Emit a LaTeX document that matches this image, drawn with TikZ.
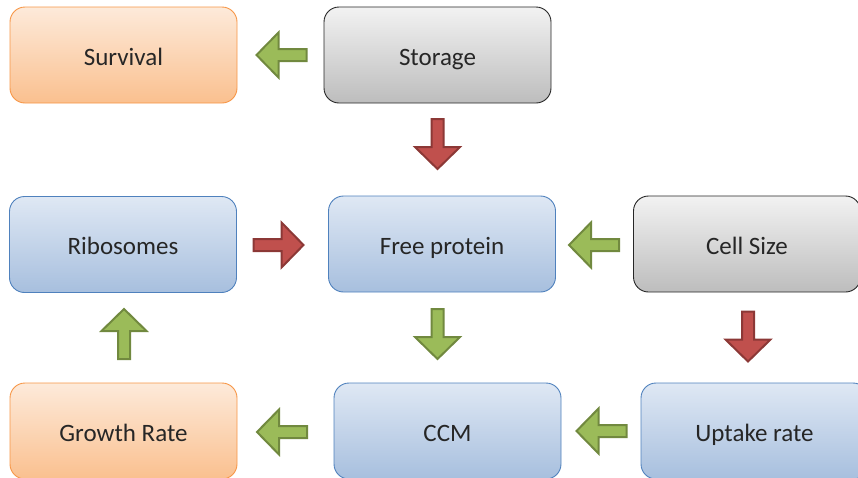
\documentclass[tikz,border=0pt]{standalone}
\usepackage{fontspec}
\setmainfont{Carlito}
\begin{document}
\begin{tikzpicture}[x=1pt,y=-1pt,
  box/.style={rounded corners=15pt, minimum width=227pt, minimum height=96pt,
    inner sep=0pt, text height=20pt, text depth=0pt,
    font=\fontsize{25}{30}\selectfont, text=txt, line width=0.9pt},
  orangebox/.style={box, draw=oborder, top color=otop, bottom color=obot},
  bluebox/.style={box, draw=bborder, top color=btop, bottom color=bbot},
  graybox/.style={box, draw=gborder, top color=gtop, bottom color=gbot},
  greenarrow/.style={fill=grfill, draw=grborder, line width=2pt, line join=miter},
  redarrow/.style={fill=rdfill, draw=rdborder, line width=2pt, line join=miter},
  blockarrow/.pic={\path[pic actions] (-25,-6) -- (3,-6) -- (3,-22.5) -- (25,0) -- (3,22.5) -- (3,6) -- (-25,6) -- cycle;}
]
\definecolor{txt}{HTML}{262626}
\definecolor{oborder}{HTML}{F79646}
\definecolor{otop}{HTML}{FDEADA}
\definecolor{obot}{HTML}{FAC08F}
\definecolor{bborder}{HTML}{4F81BD}
\definecolor{btop}{HTML}{DFE8F4}
\definecolor{bbot}{HTML}{A7BFDE}
\definecolor{gborder}{HTML}{262626}
\definecolor{gtop}{HTML}{F2F2F2}
\definecolor{gbot}{HTML}{BDBDBD}
\definecolor{grfill}{HTML}{9BBB59}
\definecolor{grborder}{HTML}{71893F}
\definecolor{rdfill}{HTML}{C0504D}
\definecolor{rdborder}{HTML}{8C3836}
\useasboundingbox (0,0) rectangle (858,477);
\clip (0,0) rectangle (858,477);

\node[orangebox] (survival) at (123.5,55) {Survival};
\node[graybox] (storage) at (437.5,55) {Storage};
\node[bluebox] (ribosomes) at (123,244.5) {Ribosomes};
\node[bluebox] (free) at (442,244) {Free protein};
\node[graybox] (cellsize) at (747,244) {Cell Size};
\node[orangebox] (growth) at (123.5,431) {Growth Rate};
\node[bluebox] (ccm) at (447.5,431) {CCM};
\node[bluebox] (uptake) at (754.5,431) {Uptake rate};

\pic[greenarrow, rotate=180] at (281.5,55) {blockarrow};
\pic[redarrow, rotate=-90] at (437.5,144) {blockarrow};
\pic[redarrow] at (278.5,245) {blockarrow};
\pic[greenarrow, rotate=180] at (594,245) {blockarrow};
\pic[greenarrow, rotate=-90] at (437.5,334) {blockarrow};
\pic[redarrow, rotate=-90] at (748,336.5) {blockarrow};
\pic[greenarrow, rotate=90] at (124,334) {blockarrow};
\pic[greenarrow, rotate=180] at (282,432) {blockarrow};
\pic[greenarrow, rotate=180] at (601.5,431) {blockarrow};
\end{tikzpicture}
\end{document}
